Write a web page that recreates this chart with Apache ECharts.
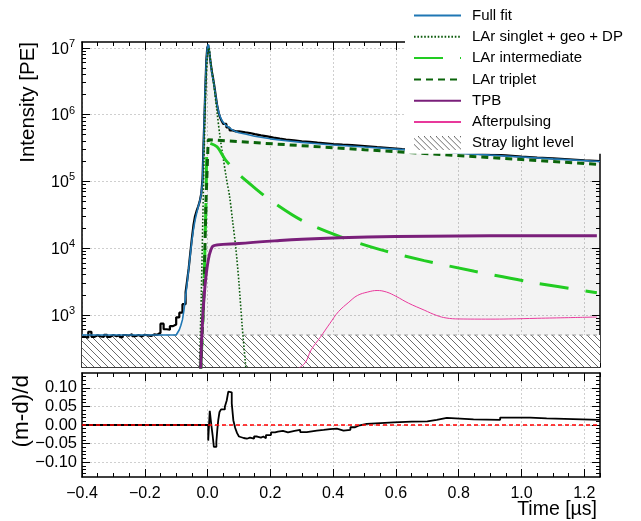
<!DOCTYPE html>
<html>
<head>
<meta charset="utf-8">
<script src="https://cdn.jsdelivr.net/npm/echarts@6/dist/echarts.min.js"></script>
<style>
  html, body { margin: 0; background: #fff; }
  #chart { width: 641px; height: 521px; }
</style>
</head>
<body>
<div id="chart"></div>
<script>
const FONT = '"Liberation Sans", Arial, sans-serif';

// axis ranges
const timeRange = [-0.4, 1.25];
const intensityRange = [166, 1.22e7];
const residualRange = [-0.14, 0.14];

// tick values
const xMajorTicks = [-0.4, -0.2, 0, 0.2, 0.4, 0.6, 0.8, 1.0, 1.2];
const xMinorTicks = [-0.35, -0.3, -0.25, -0.15, -0.1, -0.05, 0.05, 0.1, 0.15, 0.25, 0.3, 0.35,
  0.45, 0.5, 0.55, 0.65, 0.7, 0.75, 0.85, 0.9, 0.95, 1.05, 1.1, 1.15, 1.25];
const yMajorTicks = [1e3, 1e4, 1e5, 1e6, 1e7];
const yDecades = [100, 1e3, 1e4, 1e5, 1e6];
const yMultipliers = [2, 3, 4, 5, 6, 7, 8, 9];
const resMajorTicks = [-0.1, -0.05, 0, 0.05, 0.1];
const resMinorTicks = [-0.13, -0.12, -0.11, -0.09, -0.08, -0.07, -0.06, -0.04, -0.03, -0.02, -0.01,
  0.01, 0.02, 0.03, 0.04, 0.06, 0.07, 0.08, 0.09, 0.11, 0.12, 0.13];

// measured data (histogram)
const dataTime = [-0.40, -0.39, -0.38, -0.37, -0.36, -0.35, -0.34, -0.33, -0.32, -0.31, -0.30, -0.29,
  -0.28, -0.27, -0.26, -0.25, -0.24, -0.23, -0.22, -0.21, -0.20, -0.19, -0.18, -0.17, -0.16, -0.15,
  -0.14, -0.13, -0.12, -0.11, -0.10, -0.09, -0.08, -0.07, -0.065, -0.06, -0.055, -0.05, -0.045, -0.04,
  -0.035, -0.03, -0.025, -0.02, -0.016, -0.013, -0.010, -0.007, -0.004, -0.001, 0.002, 0.005, 0.008,
  0.011, 0.014, 0.018, 0.022, 0.026, 0.030, 0.035, 0.040, 0.045, 0.050, 0.060, 0.070, 0.080, 0.090,
  0.100, 0.110, 0.120, 0.135, 0.150, 0.170, 0.190, 0.210, 0.230, 0.250, 0.275, 0.300, 0.325, 0.350,
  0.375, 0.400, 0.430, 0.460, 0.500, 0.540, 0.580, 0.620, 0.660, 0.700, 0.750, 0.800, 0.850, 0.900,
  0.950, 1.000, 1.050, 1.100, 1.150, 1.200, 1.250];
const dataIntensity = [470, 455, 560, 470, 495, 475, 470, 505, 470, 500, 480, 500,
  465, 500, 490, 515, 480, 500, 475, 505, 495, 485, 510, 505, 540, 740,
  610, 600, 680, 720, 920, 1080, 1450, 2200, 3300, 5000, 8500, 1.4e4, 2.2e4, 3.0e4,
  3.6e4, 4.2e4, 5.0e4, 6.6e4, 1.1e5, 3.5e5, 9e5, 2.6e6, 6.5e6, 1.0e7, 1.1e7, 8.8e6, 6.9e6,
  5.4e6, 4.3e6, 3.4e6, 2.6e6, 1.9e6, 1.42e6, 1.08e6, 9.0e5, 8.0e5, 7.25e5, 6.4e5, 5.8e5, 5.6e5, 5.6e5,
  5.52e5, 5.41e5, 5.3e5, 5.09e5, 4.87e5, 4.7e5, 4.52e5, 4.35e5, 4.22e5, 4.12e5, 3.98e5, 3.9e5, 3.8e5, 3.71e5,
  3.62e5, 3.54e5, 3.49e5, 3.38e5, 3.25e5, 3.15e5, 3.05e5, 2.97e5, 2.89e5, 2.79e5, 2.69e5, 2.6e5, 2.51e5, 2.44e5,
  2.35e5, 2.27e5, 2.21e5, 2.14e5, 2.07e5, 2.01e5, 1.95e5];

// full fit
const fitTime = [-0.40, -0.10, -0.095, -0.09, -0.085, -0.08, -0.075, -0.07, -0.065, -0.06, -0.055, -0.05,
  -0.045, -0.04, -0.035, -0.03, -0.025, -0.02, -0.016, -0.013, -0.010, -0.007, -0.004, -0.001, 0.002,
  0.005, 0.008, 0.011, 0.014, 0.018, 0.022, 0.026, 0.030, 0.035, 0.040, 0.045, 0.050, 0.060, 0.070,
  0.080, 0.090, 0.100, 0.120, 0.150, 0.200, 0.250, 0.300, 0.350, 0.400, 0.500, 0.600, 0.750, 0.900,
  1.000, 1.100, 1.250];
const fitIntensity = [500, 500, 520, 600, 700, 850, 1200, 1900, 3000, 5000, 8000, 1.3e4,
  1.9e4, 2.6e4, 3.3e4, 4.1e4, 5.0e4, 6.5e4, 1.0e5, 3.0e5, 1.0e6, 2.8e6, 6.2e6, 9.8e6, 1.12e7,
  9.5e6, 7e6, 5.2e6, 4.1e6, 3.3e6, 2.5e6, 1.85e6, 1.4e6, 1.1e6, 9.3e5, 8.3e5, 7.6e5, 6.8e5, 6.3e5,
  5.85e5, 5.55e5, 5.35e5, 5.1e5, 4.72e5, 4.33e5, 4.05e5, 3.83e5, 3.66e5, 3.5e5, 3.26e5, 3.04e5, 2.73e5, 2.47e5,
  2.32e5, 2.17e5, 1.98e5];

// LAr singlet + geo + DP
const singletTime = [-0.026, -0.02, -0.015, -0.01, -0.005, 0.0, 0.004, 0.01, 0.02, 0.03, 0.04, 0.05,
  0.06, 0.07, 0.08, 0.09, 0.10, 0.11, 0.12, 0.125];
const singletIntensity = [150, 2000, 3e4, 4e5, 3e6, 8e6, 1.0e7, 6e6, 2.8e6, 1.1e6, 4.5e5, 2.2e5,
  1.1e5, 6e4, 2.5e4, 1e4, 3000, 700, 200, 120];

// LAr intermediate
const interTime = [-0.022, -0.012, -0.005, 0.002, 0.03, 0.057, 0.1, 0.15, 0.2, 0.3, 0.42, 0.55,
  0.69, 0.85, 1.02, 1.24];
const interIntensity = [150, 2000, 5e4, 3.8e5, 3.3e5, 2.1e5, 1.27e5, 8e4, 5.2e4, 2.6e4, 1.5e4, 9.5e3,
  6.5e3, 4.5e3, 3.15e3, 2.15e3];

// LAr triplet
const tripletTime = [-0.022, -0.012, -0.005, 0.002, 0.25, 0.5, 0.75, 1.0, 1.24];
const tripletIntensity = [150, 2000, 5e4, 4.2e5, 3.54e5, 2.98e5, 2.51e5, 2.12e5, 1.8e5];

// TPB
const tpbTime = [-0.022, 0.015, 0.1, 0.23, 0.3, 0.42, 0.6, 0.8, 1.0, 1.24];
const tpbIntensity = [150, 1.05e4, 1.17e4, 1.3e4, 1.36e4, 1.43e4, 1.49e4, 1.52e4, 1.53e4, 1.53e4];

// Afterpulsing
const apTime = [0.28, 0.31, 0.33, 0.36, 0.39, 0.417, 0.45, 0.477, 0.51, 0.54, 0.57, 0.6, 0.64,
  0.69, 0.73, 0.76, 0.8, 0.9, 0.96, 1.05, 1.15, 1.24];
const apIntensity = [150, 190, 300, 470, 750, 1120, 1550, 1950, 2200, 2320, 2200, 1900, 1500,
  1180, 980, 900, 870, 865, 870, 890, 910, 930];

// stray light level
const strayTime = [-0.4, 1.25];
const strayIntensity = [500, 500];

// residuals (m-d)/d
const resTime = [-0.4, 0.002, 0.007, 0.012, 0.016, 0.020, 0.028, 0.031, 0.034, 0.038, 0.043, 0.055,
  0.061, 0.066, 0.072, 0.077, 0.082, 0.088, 0.094, 0.100, 0.106, 0.115, 0.125, 0.135, 0.148, 0.158,
  0.170, 0.178, 0.186, 0.202, 0.215, 0.224, 0.240, 0.256, 0.277, 0.295, 0.316, 0.348, 0.370, 0.390,
  0.412, 0.433, 0.455, 0.470, 0.481, 0.507, 0.55, 0.593, 0.65, 0.70, 0.73, 0.762, 0.847, 0.932,
  1.027, 1.08, 1.25];
const resValue = [0, -0.042, 0.038, 0.0, -0.027, -0.059, -0.045, -0.013, 0.013, 0.035, 0.042, 0.049,
  0.066, 0.09, 0.088, 0.058, 0.013, -0.008, -0.022, -0.031, -0.035, -0.037, -0.034, -0.037, -0.031, -0.034,
  -0.031, -0.036, -0.027, -0.02, -0.018, -0.016, -0.02, -0.016, -0.013, -0.019, -0.015, -0.013, -0.011, -0.010,
  -0.015, -0.013, -0.006, -0.002, 0.003, 0.005, 0.007, 0.009, 0.010, 0.014, 0.019, 0.015, 0.014, 0.02,
  0.018, 0.014, 0.014];
const zeroTime = [-0.4, 1.25];
const zeroValue = [0, 0];

const pairs = (xs, ys) => xs.map((x, i) => [x, ys[i]]);
const minus = s => s.replace('-', '\u2212');

function hatch(w, h, step) {
  const c = document.createElement('canvas');
  c.width = w; c.height = h;
  const g = c.getContext('2d');
  g.fillStyle = '#fff';
  g.fillRect(0, 0, w, h);
  g.strokeStyle = '#5a5a5a';
  g.lineWidth = 0.9;
  for (let x = -h - step; x < w + step; x += step) {
    g.beginPath(); g.moveTo(x, 0); g.lineTo(x + h, h); g.stroke();
  }
  return c;
}
const hatchTile = hatch(7, 7, 7);
const hatchIcon = 'image://' + hatch(47, 14, 6).toDataURL();

function textWidth(text, size) {
  const g = document.createElement('canvas').getContext('2d');
  g.font = size + 'px ' + FONT;
  return g.measureText(text).width;
}
const timeName = 'Time [\u00b5s]';
const timeNameSize = 19.5;

let yMinorTicks = [];
yDecades.forEach(d => yMultipliers.forEach(m => yMinorTicks.push(d * m)));

function xAxis(grid, pos, ticks, len, extra) {
  return Object.assign({
    type: 'value', gridIndex: grid, position: pos,
    min: timeRange[0], max: timeRange[1],
    axisLine: { show: false, onZero: false },
    axisTick: { show: true, inside: true, length: len, customValues: ticks, lineStyle: { color: '#000', width: 1 } },
    axisLabel: { show: false },
    splitLine: { show: false }
  }, extra);
}
function yAxis(grid, pos, type, range, ticks, len, extra) {
  return Object.assign({
    type: type, gridIndex: grid, position: pos,
    min: range[0], max: range[1],
    axisLine: { show: false, onZero: false },
    axisTick: { show: true, inside: true, length: len, customValues: ticks, lineStyle: { color: '#000', width: 1 } },
    axisLabel: { show: false },
    splitLine: { show: false }
  }, extra);
}
const frame = { show: true, onZero: false, lineStyle: { color: '#000', width: 1.5 } };
const grid = { show: true, lineStyle: { color: '#cfcfcf', type: [2, 2], width: 1 } };

const chart = echarts.init(document.getElementById('chart'), null, { renderer: 'canvas' });

chart.setOption({
  animation: false,
  textStyle: { fontFamily: FONT },
  grid: [
    { left: 82, top: 42, width: 518, height: 325, outerBoundsMode: 'none', containLabel: false },
    { left: 82, top: 373, width: 518, height: 104, outerBoundsMode: 'none', containLabel: false }
  ],
  legend: {
    left: 405, top: 0, orient: 'vertical',
    padding: [8, 12, 3, 8],
    backgroundColor: '#fff',
    itemWidth: 47, itemHeight: 14, itemGap: 6.3,
    selectedMode: false,
    itemStyle: { opacity: 0 },
    textStyle: { fontSize: 15, color: '#000', fontFamily: FONT, padding: [0, 0, 0, 6] },
    data: ['Full fit', 'LAr singlet + geo + DP', 'LAr intermediate', 'LAr triplet', 'TPB', 'Afterpulsing',
      { name: 'Stray light level', icon: hatchIcon, itemStyle: { opacity: 1 } }]
  },
  xAxis: [
    xAxis(0, 'bottom', xMajorTicks, 8, { interval: 0.2, axisLine: frame, splitLine: grid }),
    xAxis(0, 'bottom', xMinorTicks, 4),
    xAxis(0, 'top', xMajorTicks, 8, { axisLine: frame }),
    xAxis(0, 'top', xMinorTicks, 4),
    xAxis(1, 'bottom', xMajorTicks, 8, {
      interval: 0.2, axisLine: frame, splitLine: grid,
      axisLabel: {
        show: true, customValues: xMajorTicks, margin: 9, fontSize: 16, color: '#000', fontFamily: FONT,
        formatter: v => minus(v.toFixed(1))
      },
      name: timeName, nameLocation: 'middle', nameGap: 23, nameMoveOverlap: false,
      nameTextStyle: {
        fontSize: timeNameSize, color: '#000', fontFamily: FONT, align: 'center', verticalAlign: 'top',
        padding: [0, 0, 0, 512 - textWidth(timeName, timeNameSize)]
      }
    }),
    xAxis(1, 'bottom', xMinorTicks, 4),
    xAxis(1, 'top', xMajorTicks, 8, { axisLine: frame }),
    xAxis(1, 'top', xMinorTicks, 4)
  ],
  yAxis: [
    yAxis(0, 'left', 'log', intensityRange, yMajorTicks, 8, {
      logBase: 10, axisLine: frame, splitLine: grid,
      axisLabel: {
        show: true, customValues: yMajorTicks, margin: 7, color: '#000',
        formatter: v => '{b|10}{s|' + Math.round(Math.log10(v)) + '}',
        rich: {
          b: { fontSize: 16, fontFamily: FONT, color: '#000', verticalAlign: 'bottom', lineHeight: 18 },
          s: { fontSize: 11, fontFamily: FONT, color: '#000', verticalAlign: 'bottom', padding: [0, 0, 8, 0] }
        }
      },
      name: 'Intensity [PE]', nameLocation: 'end', nameGap: 0, nameRotate: 90, nameMoveOverlap: false,
      nameTextStyle: { fontSize: 20.5, color: '#000', fontFamily: FONT, align: 'right', verticalAlign: 'bottom', padding: [0, 0, 43, 0] }
    }),
    yAxis(0, 'left', 'log', intensityRange, yMinorTicks, 4, { logBase: 10 }),
    yAxis(0, 'right', 'log', intensityRange, yMajorTicks, 8, { logBase: 10, axisLine: frame }),
    yAxis(0, 'right', 'log', intensityRange, yMinorTicks, 4, { logBase: 10 }),
    yAxis(1, 'left', 'value', residualRange, resMajorTicks, 8, {
      axisLine: frame, splitLine: grid,
      axisLabel: {
        show: true, customValues: resMajorTicks, margin: 5, fontSize: 16.5, color: '#000', fontFamily: FONT,
        formatter: v => minus(v.toFixed(2))
      },
      name: '(m-d)/d', nameLocation: 'end', nameGap: 0, nameRotate: 90, nameMoveOverlap: false,
      nameTextStyle: { fontSize: 22.5, color: '#000', fontFamily: FONT, align: 'right', verticalAlign: 'bottom', padding: [0, 2, 49, 0] }
    }),
    yAxis(1, 'left', 'value', residualRange, resMinorTicks, 4),
    yAxis(1, 'right', 'value', residualRange, resMajorTicks, 8, { axisLine: frame }),
    yAxis(1, 'right', 'value', residualRange, resMinorTicks, 4)
  ],
  series: [
    {
      name: 'fitFill', type: 'line', xAxisIndex: 0, yAxisIndex: 0, symbol: 'none', silent: true,
      data: pairs(fitTime, fitIntensity),
      lineStyle: { width: 0, opacity: 0 },
      areaStyle: { color: 'rgba(0,0,0,0.065)', origin: 'start' }
    },
    {
      name: 'Stray light level', type: 'line', xAxisIndex: 0, yAxisIndex: 0, symbol: 'none', silent: true,
      data: pairs(strayTime, strayIntensity),
      itemStyle: { color: '#888' },
      lineStyle: { color: '#9a9a9a', type: [4, 3], width: 1 },
      areaStyle: { color: { image: hatchTile, repeat: 'repeat' }, opacity: 1, origin: 'start' }
    },
    {
      name: 'Data', type: 'line', xAxisIndex: 0, yAxisIndex: 0, symbol: 'none', step: 'end',
      data: pairs(dataTime, dataIntensity),
      lineStyle: { color: '#000', width: 2.2 }
    },
    {
      name: 'Full fit', type: 'line', xAxisIndex: 0, yAxisIndex: 0, symbol: 'none',
      data: pairs(fitTime, fitIntensity),
      itemStyle: { color: '#1f77b4' },
      lineStyle: { color: '#1f77b4', width: 1.6 }
    },
    {
      name: 'LAr singlet + geo + DP', type: 'line', xAxisIndex: 0, yAxisIndex: 0, symbol: 'none', smooth: 0.3,
      data: pairs(singletTime, singletIntensity),
      itemStyle: { color: '#0b5a0b' },
      lineStyle: { color: '#0b5a0b', width: 1.6, type: [1.6, 1.8] }
    },
    {
      name: 'LAr intermediate', type: 'line', xAxisIndex: 0, yAxisIndex: 0, symbol: 'none', smooth: 0.3,
      data: pairs(interTime, interIntensity),
      itemStyle: { color: '#22cc22' },
      lineStyle: { color: '#22cc22', width: 3, type: [29, 17] }
    },
    {
      name: 'LAr triplet', type: 'line', xAxisIndex: 0, yAxisIndex: 0, symbol: 'none',
      data: pairs(tripletTime, tripletIntensity),
      itemStyle: { color: '#0a640a' },
      lineStyle: { color: '#0a640a', width: 3, type: [7, 5] }
    },
    {
      name: 'TPB', type: 'line', xAxisIndex: 0, yAxisIndex: 0, symbol: 'none', smooth: 0.3,
      data: pairs(tpbTime, tpbIntensity),
      itemStyle: { color: '#7a1f7a' },
      lineStyle: { color: '#7a1f7a', width: 3 }
    },
    {
      name: 'Afterpulsing', type: 'line', xAxisIndex: 0, yAxisIndex: 0, symbol: 'none', smooth: 0.4,
      data: pairs(apTime, apIntensity),
      itemStyle: { color: '#e8399b' },
      lineStyle: { color: '#e8399b', width: 1 }
    },
    {
      name: 'Residual', type: 'line', xAxisIndex: 4, yAxisIndex: 4, symbol: 'none', step: 'end',
      data: pairs(resTime, resValue),
      lineStyle: { color: '#000', width: 1.8 }
    },
    {
      name: 'Zero', type: 'line', xAxisIndex: 4, yAxisIndex: 4, symbol: 'none',
      data: pairs(zeroTime, zeroValue),
      lineStyle: { color: '#ff0000', width: 1.5, type: [4, 3] }
    }
  ]
});
</script>
</body>
</html>
